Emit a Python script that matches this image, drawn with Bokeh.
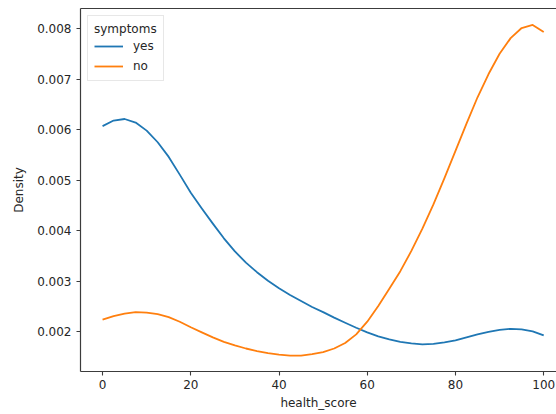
from bokeh.plotting import figure
from bokeh.models import Range1d, FixedTicker, LinearAxis, Legend, LegendItem
from bokeh.embed import file_html
from bokeh.resources import INLINE

# ---- data ----
health_score = [0, 2.5, 5, 7.5, 10, 12.5, 15, 17.5, 20, 22.5, 25, 27.5, 30, 32.5, 35,
                37.5, 40, 42.5, 45, 47.5, 50, 52.5, 55, 57.5, 60, 62.5, 65, 67.5, 70,
                72.5, 75, 77.5, 80, 82.5, 85, 87.5, 90, 92.5, 95, 97.5, 100]

density_yes = [0.00607, 0.00618, 0.00621, 0.00614, 0.00598, 0.00575, 0.00546, 0.00511,
               0.00475, 0.00444, 0.00414, 0.00385, 0.00359, 0.00337, 0.00318, 0.00301,
               0.00286, 0.00273, 0.00261, 0.00249, 0.00239, 0.00228, 0.00218, 0.00208,
               0.00199, 0.00191, 0.00185, 0.00180, 0.00177, 0.00175, 0.00176, 0.00179,
               0.00183, 0.00189, 0.00195, 0.00200, 0.00204, 0.00206, 0.00205, 0.00201,
               0.00193]

density_no = [0.00224, 0.00231, 0.00236, 0.00239, 0.00238, 0.00235, 0.00229, 0.00220,
              0.00209, 0.00199, 0.00189, 0.00180, 0.00173, 0.00167, 0.00162, 0.00158,
              0.00155, 0.00153, 0.00153, 0.00156, 0.00160, 0.00167, 0.00178, 0.00195,
              0.00220, 0.00251, 0.00285, 0.00320, 0.00360, 0.00404, 0.00452, 0.00504,
              0.00558, 0.00612, 0.00664, 0.00710, 0.00750, 0.00781, 0.00801, 0.00807,
              0.00793]

series_names = ["yes", "no"]
legend_title = "symptoms"
x_ticks = [0, 20, 40, 60, 80, 100]
y_ticks = [0.002, 0.003, 0.004, 0.005, 0.006, 0.007, 0.008]
y_tick_labels = ["0.002", "0.003", "0.004", "0.005", "0.006", "0.007", "0.008"]

BLUE = "#1f77b4"
ORANGE = "#ff7f0e"
FONT = "DejaVu Sans"
TEXT = "#262626"
SPINE = "#3c3c3c"

p = figure(width=556, height=414, output_backend="svg", toolbar_location=None,
           x_range=Range1d(-5, 102.9), y_range=Range1d(0.001215, 0.008396),
           min_border_left=80, min_border_right=0, min_border_top=8,
           min_border_bottom=43)

p.grid.visible = False
p.outline_line_color = None
p.background_fill_color = "white"
p.border_fill_color = "white"

r_yes = p.line(health_score, density_yes, line_color=BLUE, line_width=1.8,
               line_join="round")
r_no = p.line(health_score, density_no, line_color=ORANGE, line_width=1.8,
              line_join="round")

# axes
for ax in (p.xaxis[0], p.yaxis[0]):
    ax.axis_line_color = SPINE
    ax.axis_line_width = 1.2
    ax.major_tick_line_color = SPINE
    ax.major_tick_line_width = 1.1
    ax.major_tick_out = 4
    ax.major_tick_in = 0
    ax.minor_tick_line_color = None
    ax.major_label_text_font = FONT
    ax.major_label_text_font_size = "12px"
    ax.major_label_text_color = TEXT
    ax.axis_label_text_font = FONT
    ax.axis_label_text_font_size = "12px"
    ax.axis_label_text_font_style = "normal"
    ax.axis_label_text_color = TEXT

p.xaxis[0].ticker = FixedTicker(ticks=x_ticks)
p.xaxis[0].axis_label = "health_score"
p.xaxis[0].major_label_standoff = 4
p.xaxis[0].axis_label_standoff = 4

p.yaxis[0].ticker = FixedTicker(ticks=y_ticks)
p.yaxis[0].major_label_overrides = {t: s for t, s in zip(y_ticks, y_tick_labels)}
p.yaxis[0].axis_label = "Density"
p.yaxis[0].major_label_standoff = 5
p.yaxis[0].axis_label_standoff = 8

# top spine
top = LinearAxis(ticker=FixedTicker(ticks=[]), axis_line_color=SPINE,
                 axis_line_width=1.2, major_tick_line_color=None,
                 minor_tick_line_color=None, major_label_text_font_size="0px")
p.add_layout(top, "above")

legend = Legend(items=[LegendItem(label=series_names[0], renderers=[r_yes]),
                       LegendItem(label=series_names[1], renderers=[r_no])],
                location="top_left", title=legend_title)
legend.title_text_font = FONT
legend.title_text_font_size = "12px"
legend.title_text_font_style = "normal"
legend.title_text_color = TEXT
legend.title_standoff = 2
legend.label_text_font = FONT
legend.label_text_font_size = "12px"
legend.label_text_color = TEXT
legend.glyph_width = 29
legend.glyph_height = 16
legend.label_height = 16
legend.label_standoff = 10
legend.spacing = 4
legend.padding = 6
legend.margin = 7
legend.border_line_color = "#d0d0d0"
legend.border_line_width = 1
legend.background_fill_color = "white"
legend.background_fill_alpha = 0.85
p.add_layout(legend)

open("out.html", "w").write(file_html(p, INLINE))
